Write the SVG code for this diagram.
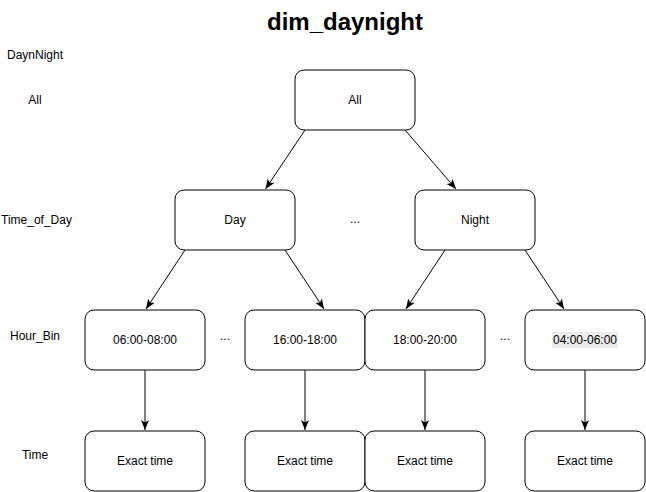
<svg xmlns="http://www.w3.org/2000/svg" width="646" height="492" viewBox="0 0 646 492">
<style>
.box{fill:#ffffff;stroke:#000000;stroke-width:1}
.t{font-family:"Liberation Sans",Arial,Helvetica,sans-serif;font-size:12px;fill:#000000;text-anchor:middle;dominant-baseline:central}
.title{font-family:"Liberation Sans",Arial,Helvetica,sans-serif;font-size:24px;font-weight:bold;fill:#000000;text-anchor:middle}
.c{stroke:#000000;stroke-width:1;fill:none;marker-end:url(#arr)}
</style>
<defs>
<marker id="arr" markerUnits="userSpaceOnUse" markerWidth="10" markerHeight="10" viewBox="0 0 10 10" refX="10" refY="5" orient="auto">
<path d="M0,1 L10,5 L0,9 L2.5,5 Z" fill="#000000"/>
</marker>
</defs>
<rect width="646" height="492" fill="#ffffff"/>
<text class="title" x="345" y="30">dim_daynight</text>
<g id="levels">
<text class="t" x="35" y="55">DaynNight</text>
<text class="t" x="35" y="100">All</text>
<text class="t" x="36.5" y="220">Time_of_Day</text>
<text class="t" x="35" y="336">Hour_Bin</text>
<text class="t" x="35" y="455">Time</text>
</g>
<g id="connectors">
<line class="c" x1="305" y1="130" x2="265.5" y2="189"/>
<line class="c" x1="405" y1="130" x2="456" y2="189"/>
<line class="c" x1="185" y1="250" x2="146" y2="309"/>
<line class="c" x1="285" y1="250" x2="324" y2="309"/>
<line class="c" x1="445" y1="250" x2="406" y2="309"/>
<line class="c" x1="525" y1="250" x2="564" y2="309"/>
<line class="c" x1="145" y1="370" x2="145" y2="430"/>
<line class="c" x1="305" y1="370" x2="305" y2="430"/>
<line class="c" x1="425" y1="370" x2="425" y2="430"/>
<line class="c" x1="585" y1="370" x2="585" y2="430"/>
</g>
<g id="n-all"><rect class="box" x="295" y="70" width="120" height="60" rx="9"/><text class="t" x="355" y="100">All</text></g>
<g id="n-day"><rect class="box" x="175" y="190" width="120" height="60" rx="9"/><text class="t" x="235" y="220">Day</text></g>
<g id="n-night"><rect class="box" x="415" y="190" width="120" height="60" rx="9"/><text class="t" x="475" y="220">Night</text></g>
<g id="n-0608"><rect class="box" x="85" y="310" width="120" height="60" rx="9"/><text class="t" x="145" y="340">06:00-08:00</text></g>
<g id="n-1618"><rect class="box" x="245" y="310" width="120" height="60" rx="9"/><text class="t" x="305" y="340">16:00-18:00</text></g>
<g id="n-1820"><rect class="box" x="365" y="310" width="120" height="60" rx="9"/><text class="t" x="425" y="340">18:00-20:00</text></g>
<g id="n-0406"><rect class="box" x="525" y="310" width="120" height="60" rx="9"/><rect x="552" y="332" width="66" height="16" fill="#ebebeb"/><text class="t" x="585" y="340">04:00-06:00</text></g>
<g id="n-t1"><rect class="box" x="85" y="431" width="120" height="60" rx="9"/><text class="t" x="145" y="461">Exact time</text></g>
<g id="n-t2"><rect class="box" x="245" y="431" width="120" height="60" rx="9"/><text class="t" x="305" y="461">Exact time</text></g>
<g id="n-t3"><rect class="box" x="365" y="431" width="120" height="60" rx="9"/><text class="t" x="425" y="461">Exact time</text></g>
<g id="n-t4"><rect class="box" x="525" y="431" width="120" height="60" rx="9"/><text class="t" x="585" y="461">Exact time</text></g>
<g id="ellipses">
<text class="t" x="355" y="219">...</text>
<text class="t" x="225" y="336">...</text>
<text class="t" x="505" y="336">...</text>
</g>
</svg>
